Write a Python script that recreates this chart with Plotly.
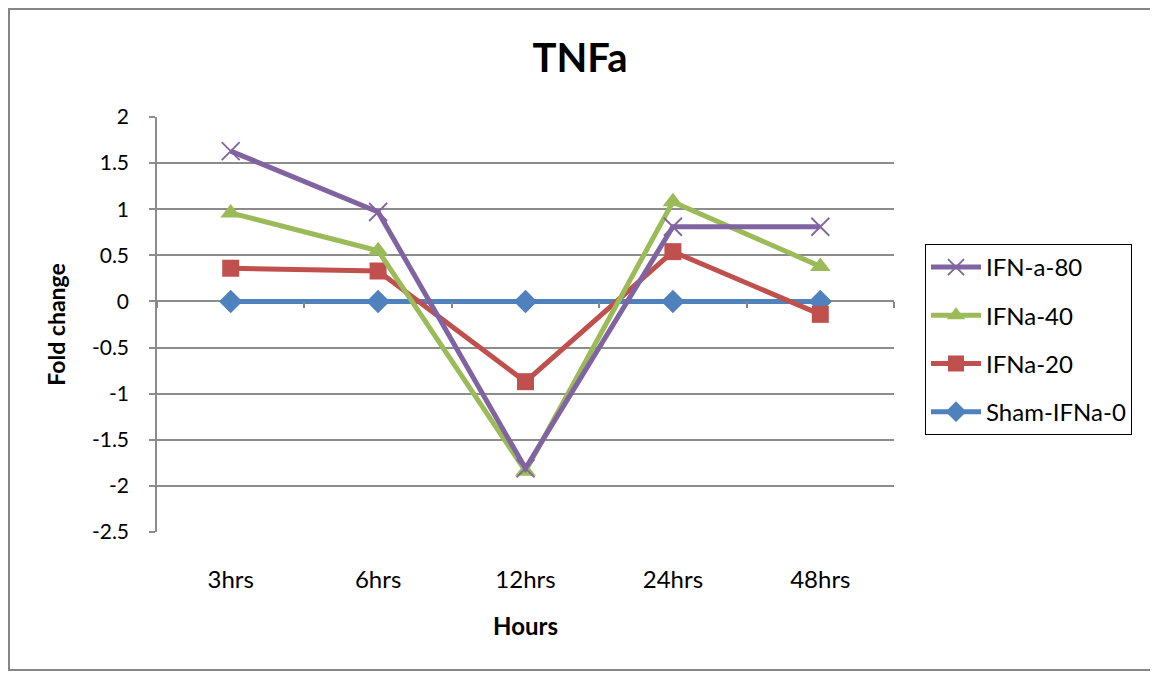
import plotly.graph_objects as go

categories = ["3hrs", "6hrs", "12hrs", "24hrs", "48hrs"]
ifn_a_80 = [1.63, 0.97, -1.81, 0.81, 0.81]
ifna_40 = [0.96, 0.55, -1.84, 1.08, 0.38]
ifna_20 = [0.36, 0.33, -0.87, 0.54, -0.14]
sham_ifna_0 = [0, 0, 0, 0, 0]
y_ticks = [2, 1.5, 1, 0.5, 0, -0.5, -1, -1.5, -2, -2.5]
y_tick_labels = ["2", "1.5", "1", "0.5", "0", "-0.5", "-1", "-1.5", "-2", "-2.5"]

xpos = list(range(len(categories)))
OFF = 8  # page body margin
W, H = 1158 - OFF, 675 - OFF
L, R, T, B = 157 - OFF, 264, 117 - OFF, 143
FONT = "Lato, Open Sans, sans-serif"

fig = go.Figure()

# drawing order (bottom to top); legend order via legendrank
series = [
    ("Sham-IFNa-0", sham_ifna_0, "#4F81BD", dict(symbol="diamond", size=18), 4),
    ("IFNa-20", ifna_20, "#C0504D", dict(symbol="square", size=17), 3),
    ("IFNa-40", ifna_40, "#9BBB59", dict(symbol="triangle-up", size=18), 2),
    ("IFN-a-80", ifn_a_80, "#8064A2", dict(symbol="x-thin", size=18, line=dict(width=1.8, color="#8064A2")), 1),
]
for i, (name, vals, color, mk, rank) in enumerate(series):
    fig.add_trace(go.Scatter(
        x=xpos, y=vals, name=name, mode="lines+markers",
        legendgroup="g%d" % i, legendrank=rank,
        line=dict(color=color, width=5),
        marker=dict(color=color, **mk),
    ))

# invisible helper trace for the crossing axis at y=0
fig.add_trace(go.Scatter(x=xpos, y=sham_ifna_0, xaxis="x2", yaxis="y",
                         mode="lines", line=dict(width=0), opacity=0,
                         showlegend=False, hoverinfo="skip"))

pw = W - L - R
ph = H - T - B
def px(x):
    return (x - OFF - L) / pw
def py(y):
    return (H - B - (y - OFF)) / ph

fig.add_shape(type="rect", xref="paper", yref="paper",
              x0=px(9), x1=px(1155), y0=py(670), y1=py(9),
              line=dict(color="#868686", width=2), layer="below")

fig.update_layout(
    width=W, height=H,
    margin=dict(l=L, r=R, t=T, b=B),
    paper_bgcolor="white", plot_bgcolor="white",
    font=dict(family=FONT, size=20, color="black"),
    title=dict(text="<b>TNFa</b>", x=(580 - OFF) / W, xanchor="center", xref="container",
               y=1 - (58 - OFF) / H, yanchor="middle", yref="container",
               font=dict(size=40, family=FONT, color="black")),
    xaxis=dict(range=[-0.5, len(categories) - 0.5], tickvals=xpos, ticktext=categories,
               showgrid=False, zeroline=False, showline=False, ticks="",
               ticklabelstandoff=31, tickfont=dict(size=24),
               title=dict(text="<b>Hours</b>", font=dict(size=24), standoff=26)),
    xaxis2=dict(range=[-0.5, len(categories) - 0.5], overlaying="x", anchor="free",
                position=2.5 / 4.5, showgrid=False, zeroline=False, showline=False,
                tickvals=[i + 0.5 for i in range(-1, len(categories))], ticks="outside",
                ticklen=6, tickwidth=1.5, tickcolor="#868686", showticklabels=False),
    yaxis=dict(range=[-2.5, 2], tickvals=y_ticks, ticktext=y_tick_labels,
               showgrid=True, gridcolor="#8C8C8C",
               gridwidth=1.5, zeroline=False, showline=True, linecolor="#8C8C8C",
               linewidth=1.5, ticks="outside", ticklen=6, tickcolor="#8C8C8C",
               tickwidth=1.5, tickfont=dict(size=21), ticklabelstandoff=16,
               title=dict(text="<b>Fold change</b>", font=dict(size=23), standoff=20)),
    legend=dict(x=px(925), y=py(244), xanchor="left", yanchor="top",
                bordercolor="black", borderwidth=1, bgcolor="white",
                traceorder="grouped", font=dict(size=24), itemwidth=50,
                tracegroupgap=14),
    showlegend=True,
)

fig.write_html("out.html")
